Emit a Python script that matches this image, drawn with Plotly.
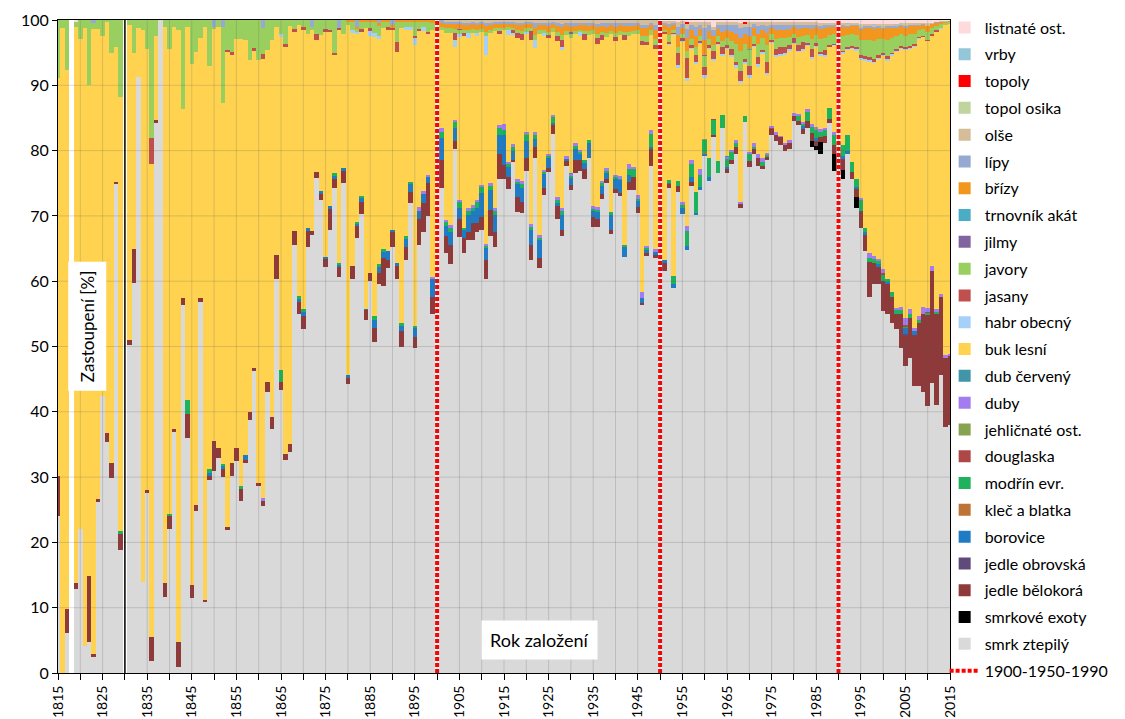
import plotly.graph_objects as go

years = list(range(1815, 2016))
empty_years = [1818, 1830]
markers = [1900, 1950, 1990]

# ---------- conifers (full lists, 1815..2015) ----------
smrk = [
    24.1, 0, 6.2, None, 12.8, 22.1, 4.2, 4.8, 2.5, 26.3,
    42.4, 35.4, 29.9, 74.9, 18.8, None, 50.2, 59.8, 91.2, 14.0,
    27.6, 1.9, 84.3, 100, 11.6, 22.1, 37.0, 0.9, 56.3, 36.0,
    11.5, 24.8, 56.8, 10.8, 29.5, 31.0, 33.0, 30.0, 22.0, 30.1,
    32.4, 26.4, 32.1, 38.8, 46.4, 28.6, 25.5, 43.0, 37.4, 60.3,
    43.4, 32.6, 33.8, 65.6, 55.0, 52.7, 65.3, 67.0, 75.8, 72.5,
    62.2, 67.8, 74.2, 60.6, 75.0, 44.3, 60.3, 66.6, 70.3, 54.0,
    60.0, 50.7, 59.6, 59.2, 62.0, 65.3, 60.3, 50.0, 63.3, 71.9,
    49.8, 65.6, 67.5, 70.0, 55.0, 53.0, 74.2, 64.3, 62.6, 80.2,
    66.9, 64.3, 66.3, 66.3, 67.6, 67.9, 60.3, 66.9, 65.3, 75.6,
    75.6, 74.1, 78.2, 70.6, 70.4, 76.9, 63.3, 78.9, 62.0, 73.2,
    76.8, 82.5, 69.6, 66.9, 77.6, 74.1, 76.6, 76.9, 75.6, 78.9,
    68.3, 68.3, 72.6, 75.0, 67.3, 73.5, 73.0, 63.7, 73.9, 73.9,
    70.4, 56.3, 63.9, 77.6, 63.5, 62.5, 61.6, 74.2, 59.0, 73.6,
    70.3, 64.9, 74.6, 70.2, 73.9, 79.5, 75.4, 82.2, 76.6, 83.5,
    76.6, 77.9, 79.5, 71.2, 84.5, 77.6, 79.5, 77.6, 77.2, 78.5,
    82.5, 81.5, 80.9, 79.9, 80.2, 84.5, 83.9, 82.5, 83.5, 80.5,
    80.2, 79.5, 81.2, 84.2, 76.9, 77.0, 75.7, 79.5, 75.7, 71.2,
    68.3, 64.6, 57.6, 59.6, 59.6, 55.6, 55.0, 53.6, 52.7, 49.7,
    47.3, 48.3, 44.0, 44.0, 43.0, 41.0, 44.4, 41.0, 45.7, 37.7,
    38.0,
]

jedle = [
    6.0, 0, 3.6, None, 1.0, 0, 0, 10.0, 0.4, 0.3,
    0, 1.3, 2.2, 0.3, 2.6, None, 0.8, 5.1, 0, 0,
    0.4, 3.6, 0.4, 0, 2.2, 2.0, 0.3, 3.9, 1.2, 3.6,
    2.0, 1.0, 0.7, 0.4, 0.8, 4.6, 1.5, 1.2, 0.3, 2.0,
    2.0, 1.9, 0.5, 1.2, 0.3, 0.5, 0.8, 1.5, 1.8, 3.7,
    1.1, 1.0, 1.2, 2.1, 1.8, 2.0, 2.5, 0.7, 1.0, 1.0,
    1.2, 3.4, 1.5, 1.6, 2.0, 0.9, 2.0, 1.8, 1.9, 1.6,
    1.3, 2.2, 1.7, 4.4, 1.3, 2.3, 2.0, 2.3, 2.0, 1.8,
    1.7, 4.0, 4.5, 5.0, 2.6, 2.6, 4.3, 2.6, 3.0, 1.3,
    2.7, 2.3, 1.3, 2.6, 1.3, 2.0, 3.0, 4.0, 2.3, 3.9,
    2.2, 1.8, 0.4, 2.3, 1.8, 2.0, 2.3, 1.6, 1.6, 1.0,
    0.6, 1.5, 2.0, 1.0, 0.9, 0.8, 1.9, 1.6, 1.6, 0,
    1.6, 1.3, 0.7, 0.6, 0.6, 0.6, 0.5, 0, 1.3, 2.0,
    0.9, 0.4, 0.4, 2.6, 0.5, 0.8, 1.2, 0.7, 0, 1.0,
    0, 0, 0.6, 0, 0, 0, 0, 0.3, 0, 0,
    0.6, 0.6, 1.0, 0.6, 0, 0.9, 0.7, 1.3, 0.5, 0.6,
    1.0, 1.0, 1.2, 1.0, 1.0, 0.9, 0.7, 0.8, 1.0, 1.3,
    0.7, 0.8, 1.0, 0.6, 1.3, 0.8, 1.7, 0, 1.0, 1.3,
    2.6, 2.6, 5.3, 3.3, 2.6, 4.7, 4.6, 4.0, 2.3, 5.3,
    4.7, 6.0, 7.7, 9.6, 12.0, 14.0, 17.2, 14.0, 11.9, 10.6,
    10.5,
]

exoty_d = {1984: 0.9, 1985: 0.6, 1986: 1.8, 1989: 2.6, 1990: 2.5, 1991: 1.3, 1994: 1.7}

borovice_d = {
    1849: 0.3, 1852: 0.6, 1857: 0.8, 1869: 0.5, 1870: 0.6, 1871: 0.3, 1874: 0.3, 1875: 0.3,
    1876: 0.3, 1877: 0.5, 1878: 0.3, 1879: 0.3, 1880: 0.5, 1882: 0.4, 1883: 0.5, 1884: 0.2,
    1886: 1.2, 1887: 0.8, 1888: 1.0, 1889: 1.3, 1890: 0.2, 1891: 0.5, 1892: 0.8, 1893: 1.2,
    1894: 1.3, 1895: 1.4, 1896: 1.2, 1897: 1.4, 1898: 1.0, 1899: 2.8,
    1900: 2.3, 1901: 3.4, 1902: 1.6, 1903: 2.0, 1904: 2.0, 1905: 1.7, 1906: 1.3, 1907: 2.6,
    1908: 1.9, 1909: 2.3, 1910: 3.6, 1911: 1.8, 1912: 3.0, 1913: 2.6, 1914: 2.9, 1915: 4.6,
    1916: 1.6, 1917: 1.3, 1918: 2.0, 1919: 2.0, 1920: 2.7, 1921: 2.3, 1922: 1.3, 1923: 2.7,
    1924: 2.3, 1925: 1.5, 1926: 0.2, 1927: 0.3, 1928: 2.3, 1929: 0.3, 1930: 1.0, 1931: 1.8,
    1932: 1.0, 1933: 1.0, 1934: 2.3, 1935: 1.0, 1936: 1.0, 1937: 1.3, 1938: 1.0, 1939: 2.3,
    1940: 1.5, 1941: 2.0, 1942: 1.5, 1943: 1.0, 1945: 1.0, 1946: 0.7, 1947: 0.6, 1948: 0.4,
    1949: 0.6, 1950: 0.5, 1951: 0.4, 1952: 0.2, 1953: 0.6, 1955: 1.0, 1956: 0.7, 1957: 0.7,
    1958: 0.3, 1959: 0.6, 1960: 0.3, 1961: 0.5, 1965: 0.4, 1982: 0.5, 1985: 0.5, 1991: 0.5,
    1992: 0.5, 1994: 0.3, 1996: 0.3, 1999: 0.4, 2001: 0.3, 2005: 1.0, 2007: 0.6,
}

modrin_d = {
    1829: 0.3, 1840: 0.3, 1844: 2.2, 1849: 0.6, 1852: 0.2, 1856: 0.3, 1865: 1.9, 1869: 0.5,
    1870: 0.5, 1877: 0.3, 1878: 0.3, 1882: 0.2, 1883: 0.4, 1886: 0.6, 1887: 0.5, 1888: 0.3,
    1892: 0.5, 1893: 0.4, 1894: 0.2, 1895: 0.2,
    1901: 1.0, 1902: 0.5, 1903: 0.6, 1904: 1.0, 1905: 0.9, 1906: 0.3, 1907: 0.6, 1908: 0.5,
    1909: 1.0, 1910: 1.0, 1911: 0.3, 1912: 0.7, 1913: 0.6, 1914: 1.0, 1915: 0.8, 1916: 0.5,
    1917: 0.6, 1918: 0.4, 1919: 0.7, 1920: 1.0, 1921: 0.5, 1922: 0.7, 1923: 0.4, 1924: 0.3,
    1925: 0.3, 1926: 1.0, 1927: 0.6, 1928: 0.7, 1930: 0.5, 1931: 0.5, 1932: 0.3, 1933: 0.3,
    1934: 0.4, 1935: 0.3, 1936: 0.4, 1937: 0.5, 1938: 0.4, 1939: 0.4, 1940: 0.4, 1941: 0.3,
    1942: 0.4, 1943: 1.0, 1944: 1.3, 1945: 0.3, 1947: 0.2, 1948: 2.0,
    1952: 0.4, 1953: 1.2, 1954: 0.8, 1955: 0.3, 1956: 2.3, 1957: 2.0, 1958: 3.1, 1959: 1.7,
    1960: 2.0, 1961: 3.0, 1962: 2.3, 1963: 1.9, 1964: 2.0, 1965: 1.3, 1966: 1.4, 1967: 0.8,
    1969: 1.0, 1970: 1.0, 1971: 0.4, 1973: 0.6, 1974: 0.3, 1981: 0.7, 1982: 0.4, 1983: 1.5,
    1984: 1.0, 1985: 1.3, 1986: 0.8, 1987: 1.0, 1988: 1.7, 1989: 1.7, 1990: 1.0, 1991: 1.6,
    1992: 2.5, 1993: 1.6, 1994: 1.2, 1995: 1.7, 1996: 0.7, 1997: 0.7, 1998: 0.7, 1999: 0.5,
    2000: 1.0, 2001: 0.4, 2002: 0.7, 2003: 0.7, 2004: 0.7, 2005: 0.3, 2006: 0.7, 2008: 0.4,
    2010: 0.3, 2012: 0.3,
}

duby_d = {
    1861: 0.5, 1896: 0.5, 1897: 0.4, 1898: 0.3, 1899: 0.3, 1900: 0.4, 1901: 0.5, 1902: 0.4,
    1903: 0.4, 1904: 0.2, 1905: 0.3, 1907: 0.4, 1908: 0.3, 1909: 0.3, 1910: 0.3, 1911: 0.3,
    1912: 0.4, 1913: 0.4, 1914: 0.5, 1915: 0.9, 1916: 0.3, 1917: 0.5, 1918: 0.3, 1919: 0.4,
    1920: 0.3, 1921: 0.3, 1922: 0.3, 1923: 0.3, 1924: 0.2, 1925: 0.3, 1926: 0.3, 1927: 0.4,
    1928: 0.3, 1929: 0.3, 1930: 0.3, 1931: 0.3, 1932: 0.3, 1935: 0.3, 1936: 0.3, 1937: 0.3,
    1938: 0.3, 1940: 0.3, 1941: 0.3, 1943: 0.7, 1944: 0.3, 1945: 0.6, 1946: 1.0, 1947: 0.3,
    1948: 0.5, 1949: 0.3, 1955: 0.6, 1956: 0.7, 1957: 0.6, 1959: 1.0, 1965: 0.3, 1966: 0.2,
    1967: 0.3, 1968: 0.4, 1970: 0.4, 1971: 0.5, 1972: 0.6, 1973: 0.5, 1974: 0.3, 1975: 0.4,
    1976: 0.3, 1977: 0.2, 1978: 0.2, 1979: 0.4, 1980: 0.3, 1981: 0.3, 1982: 0.2, 1983: 0.3,
    1984: 0.3, 1985: 0.3, 1986: 0.4, 1987: 0.3, 1989: 0.3, 1995: 0.2, 1997: 0.7, 1998: 0.3,
    1999: 0.3, 2000: 0.6, 2003: 0.3, 2004: 0.3, 2005: 1.0, 2006: 0.8, 2007: 0.5, 2008: 0.6,
    2009: 1.0, 2010: 0.5, 2011: 0.7, 2012: 0.4, 2013: 0.4, 2014: 0.4, 2015: 0.4,
}

jedle_obrovska_d = {1995: 0.1, 2005: 0.1}
klec_d = {1960: 0.1}
douglaska_d = {1962: 0.1, 1975: 0.1, 1990: 0.1, 2000: 0.2, 2005: 0.2, 2010: 0.2}
jehlicnate_ost_d = {1920: 0.1, 1960: 0.1, 1985: 0.1}
dub_cerveny_d = {1930: 0.1, 1965: 0.1, 1990: 0.1}

# ---------- beech ----------
buk = [
    61.0, 98.8, 82.5, None, 85.1, 75.0, 94.5, 75.2, 95.7, 72.0,
    55.2, 63.1, 62.8, 20.7, 66.5, None, 48.2, 30.0, 7.5, 84.5,
    67.5, 72.5, 12.8, 0, 85.2, 71.2, 61.7, 93.7, 28.8, 57.2,
    79.8, 69.3, 39.7, 87.8, 61.8, 63.1, 64.5, 55.3, 72.8, 62.5,
    62.7, 68.5, 63.6, 53.8, 48.7, 64.7, 67.2, 50.9, 57.7, 35.0,
    51.0, 62.3, 64.1, 30.4, 41.5, 42.8, 29.8, 30.8, 20.2, 23.9,
    34.6, 26.8, 18.2, 35.7, 20.5, 53.5, 35.7, 28.8, 25.2, 42.9,
    36.2, 42.7, 34.5, 33.9, 33.9, 30.7, 32.3, 45.1, 31.5, 23.3,
    43.1, 27.1, 24.5, 21.5, 37.8, 37.2, 15.1, 28.6, 29.4, 11.1,
    25.0, 29.3, 26.0, 26.4, 25.0, 23.4, 28.9, 23.0, 27.1, 14.1,
    14.4, 19.4, 16.8, 21.6, 21.6, 14.9, 28.2, 12.9, 30.9, 20.7,
    17.7, 12.6, 23.9, 24.2, 18.6, 20.7, 16.7, 17.5, 18.5, 16.1,
    26.4, 25.0, 21.6, 20.1, 27.2, 20.5, 21.6, 31.3, 19.7, 20.3,
    24.7, 37.8, 30.7, 14.6, 30.6, 31.4, 34.7, 20.7, 37.0, 17.4,
    24.5, 22.4, 17.1, 19.7, 19.2, 9.5, 16.7, 9.0, 17.8, 9.1,
    16.4, 14.3, 11.2, 18.1, 8.1, 11.4, 14.8, 13.3, 16.1, 11.9,
    12.8, 11.6, 12.3, 13.6, 13.8, 10.7, 9.5, 11.0, 9.8, 10.1,
    12.3, 11.3, 10.9, 9.4, 13.3, 13.8, 14.1, 13.1, 17.3, 19.7,
    21.3, 25.6, 29.3, 29.7, 30.7, 32.8, 33.5, 36.3, 39.2, 39.6,
    41.3, 39.8, 43.1, 42.6, 41.4, 41.1, 35.3, 42.5, 40.7, 50.5,
    50.6,
]

# ---------- broadleaves above beech ----------
javory = [
    8.9, 1.2, 7.7, None, 0.8, 2.9, 1.3, 10.0, 1.0, 1.4,
    2.4, 0.2, 5.1, 4.1, 11.8, None, 0.8, 5.1, 1.3, 1.5,
    4.5, 18.0, 2.5, 0, 1.0, 4.4, 1.0, 1.5, 13.7, 1.0,
    6.7, 4.9, 2.8, 1.0, 7.0, 0.3, 1.0, 11.7, 4.6, 4.9,
    2.9, 2.9, 3.0, 6.2, 4.3, 6.2, 4.0, 4.6, 3.1, 1.0,
    2.2, 3.6, 0.9, 1.4, 0.7, 1.1, 2.1, 0.5, 2.2, 2.3,
    1.4, 1.5, 5.1, 0, 2.2, 0.5, 1.3, 0.5, 1.1, 1.0,
    1.0, 1.7, 1.6, 0.9, 0.7, 0, 3.1, 1.0, 0.7, 0.7,
    2.1, 1.1, 0.7, 1.5, 1.0, 1.5, 0.5, 0.8, 0.7, 0.6,
    0.6, 0.5, 0.5, 0.6, 0.5, 0.4, 0.6, 0.5, 0.4, 0.4,
    0.3, 0.4, 0.4, 0.5, 0.5, 0.5, 0.3, 0.8, 0.5, 0.5,
    0.5, 0.6, 0.6, 0.8, 0.6, 0.7, 0.5, 0.4, 0.5, 0.6,
    0.5, 0.5, 0.5, 0.6, 0.5, 0.6, 0.6, 0.5, 0.6, 0.5,
    0.5, 0.7, 0.8, 0.8, 0.9, 1.0, 0.3, 1.0, 0.3, 1.0,
    0.6, 1.0, 1.0, 1.2, 0.7, 1.8, 1.0, 0.9, 1.0, 1.0,
    1.2, 1.2, 2.8, 3.0, 2.3, 2.5, 1.2, 2.0, 1.8, 2.6,
    0.9, 1.5, 1.4, 1.4, 1.3, 0.6, 1.3, 1.0, 1.2, 1.5,
    1.3, 2.0, 1.8, 1.5, 1.4, 2.0, 2.2, 1.8, 1.8, 1.9,
    2.3, 2.5, 2.6, 2.8, 2.5, 2.2, 2.5, 2.3, 2.0, 1.8,
    1.8, 1.8, 1.6, 1.0, 1.0, 1.2, 0.9, 0.7, 0.6, 0.4,
    0.3,
]

jasany_d = {
    1836: 4.0, 1853: 0.3, 1854: 0.5, 1859: 0.3, 1861: 0.8, 1866: 0.5, 1868: 0.5, 1870: 0.3,
    1873: 0.8, 1875: 0.3, 1876: 0.2, 1877: 0.2, 1878: 0.3, 1883: 0.3, 1885: 0.4, 1889: 0.5,
    1890: 0.4, 1891: 1.5, 1895: 0.4, 1896: 0.2, 1898: 0.4, 1904: 1.0, 1906: 0.5, 1914: 0.3,
    1917: 0.3, 1918: 0.8, 1919: 0.9, 1921: 1.5, 1925: 0.5, 1927: 0.7, 1928: 1.0, 1933: 0.8,
    1936: 1.0, 1937: 0.7, 1940: 0.6, 1942: 0.8, 1946: 0.6, 1947: 0.6, 1949: 0.7, 1950: 0.7,
    1951: 0.2, 1952: 0.3, 1953: 0.2, 1954: 1.8, 1955: 0.3, 1956: 3.1, 1957: 0.3, 1958: 1.0,
    1959: 0.2, 1960: 1.3, 1961: 0.3, 1962: 1.3, 1963: 0.2, 1964: 1.0, 1965: 0.3, 1966: 0.9,
    1967: 0.4, 1968: 1.5, 1969: 0.3, 1970: 1.5, 1971: 0.3, 1972: 1.0, 1973: 0.3, 1974: 1.7,
    1975: 0.2, 1976: 1.0, 1977: 1.0, 1978: 0.9, 1979: 0.5, 1980: 0.8, 1981: 0.8, 1982: 1.0,
    1983: 0.3, 1984: 1.3, 1985: 0.3, 1986: 0.3, 1987: 0.8, 1988: 0.2, 1989: 0.2, 1990: 0.2,
    1991: 0.2, 1992: 0.2, 1993: 0.2, 1994: 0.2, 1995: 0.5, 1996: 0.5, 1997: 0.5, 1998: 0.3,
    1999: 0.3, 2000: 0.2, 2001: 0.5, 2002: 0.2, 2003: 0.2, 2004: 0.2, 2005: 0.2, 2006: 0.2,
    2007: 0.2, 2008: 0.1, 2009: 0.1, 2010: 0.1, 2011: 0.1, 2012: 0.1,
}

habr_early_d = {
    1865: 0.4, 1881: 0.4, 1882: 0.4, 1885: 0.8, 1886: 0.6, 1887: 0.5, 1893: 0.6, 1894: 0.5,
    1895: 1.0, 1897: 0.7, 1900: 1.5, 1904: 1.2, 1905: 0.5, 1907: 0.8, 1909: 0.5, 1911: 3.0,
    1916: 0.8, 1917: 0.3, 1920: 0.4, 1922: 1.2, 1924: 0.3, 1928: 0.5, 1932: 0.5,
}
habr_from_1951 = [
    0.1, 0.2, 0.1, 0.3, 0.2, 0.4, 0.2, 0.3, 0.2, 0.3,
    0.2, 0.2, 0.2, 0.2, 0.2, 0.3, 0.3, 0.4, 0.3, 0.3,
    0.2, 0.5, 0.2, 0.3, 0.1, 0.2, 0.2, 0.2, 0.2, 0.1,
    0.2, 0.2, 0.1, 0.2, 0.2, 0.2, 0.2, 0.1, 0.1, 0.2,
    0.2, 0.2, 0.2, 0.2, 0.2, 0.2, 0.2, 0.2, 0.2, 0.2,
    0.2, 0.2, 0.2, 0.2, 0.2, 0.2, 0.2, 0.1, 0.1, 0.1,
    0.1, 0.1, 0.1, 0.0, 0.0,
]

brizy_from_1880 = [
    0.3, 0.3, 0.3, 0.3, 0.3, 0.3, 0.3, 0.3, 0.3, 0.3,
    0.3, 0.3, 0.3, 0.3, 0.3, 0.3, 0.3, 0.3, 0.3, 0.5,
    0.5, 0.5, 0.6, 0.7, 0.8, 0.8, 0.8, 0.8, 0.8, 0.8,
    0.8, 0.9, 0.8, 0.7, 0.7, 0.6, 0.6, 0.6, 0.8, 0.9,
    0.7, 0.7, 1.0, 0.8, 0.8, 0.9, 0.7, 1.0, 1.2, 0.9,
    0.9, 0.8, 0.8, 0.9, 0.8, 0.8, 1.1, 0.9, 1.0, 0.9,
    1.0, 0.9, 0.9, 0.9, 0.8, 0.8, 1.2, 1.2, 0.8, 1.4,
    1.5, 0.8, 1.2, 0.8, 1.8, 1.0, 2.0, 1.3, 1.8, 1.1,
    2.2, 1.2, 1.3, 1.0, 1.3, 1.1, 1.3, 1.5, 2.0, 1.5,
    2.0, 1.1, 1.6, 1.3, 1.8, 1.0, 1.3, 1.3, 1.3, 1.2,
    1.0, 1.2, 1.2, 1.1, 1.5, 1.2, 1.5, 1.5, 1.3, 1.2,
    1.5, 1.5, 1.3, 1.3, 1.4, 1.7, 1.8, 1.9, 1.9, 1.7,
    1.6, 1.8, 1.6, 1.4, 1.3, 1.3, 1.3, 1.2, 0.8, 0.7,
    0.9, 0.7, 0.5, 0.3, 0.2, 0.1,
]

lipy_early_d = {1823: 0.4, 1850: 1.0, 1852: 1.0, 1861: 1.2, 1872: 1.0, 1878: 1.2,
                1882: 1.0, 1887: 0.5, 1890: 0.8}
lipy_from_1900 = [
    0.5, 0.5, 0.3, 0.3, 0.3, 0.3, 0.3, 0.3, 0.3, 0.3,
    0.3, 0.4, 0.3, 0.3, 0.3, 0.3, 0.2, 0.3, 0.3, 0.4,
    0.3, 0.3, 0.8, 0.4, 0.3, 0.4, 0.3, 0.4, 0.5, 0.4,
    0.5, 0.4, 0.3, 0.4, 0.4, 0.4, 0.5, 0.4, 0.5, 0.4,
    0.5, 0.4, 0.4, 0.4, 0.4, 0.4, 0.6, 0.6, 0.3, 0.7,
    0.8, 0.3, 0.5, 0.4, 1.2, 0.6, 1.4, 0.8, 1.3, 0.7,
    1.8, 0.9, 1.0, 0.7, 1.2, 0.9, 1.2, 1.4, 1.6, 1.2,
    1.4, 0.7, 1.2, 0.8, 1.1, 0.5, 0.8, 0.7, 0.7, 0.6,
    0.4, 0.6, 0.5, 0.5, 0.6, 0.4, 0.5, 0.5, 0.3, 0.3,
    0.3, 0.3, 0.2, 0.2, 0.2, 0.3, 0.3, 0.3, 0.3, 0.3,
    0.2, 0.3, 0.2, 0.2, 0.2, 0.2, 0.2, 0.2, 0.1, 0.1,
    0.1, 0.1, 0.1, 0.1, 0.0, 0.0,
]

olse_from_1900 = [
    0.5, 0.0, 0.3, 0.3, 0.3, 0.3, 0.4, 0.4, 0.3, 0.4,
    0.3, 0.5, 0.4, 0.3, 0.3, 0.3, 0.3, 0.3, 0.4, 0.4,
    0.3, 0.3, 0.5, 0.4, 0.4, 0.5, 0.3, 0.5, 0.6, 0.4,
    0.5, 0.5, 0.4, 0.4, 0.5, 0.4, 0.6, 0.5, 0.5, 0.4,
    0.5, 0.4, 0.5, 0.5, 0.5, 0.4, 0.7, 0.7, 0.4, 0.8,
    0.8, 0.3, 0.5, 0.3, 0.9, 0.5, 0.9, 0.6, 0.9, 0.5,
    1.0, 0.5, 0.5, 0.4, 0.5, 0.5, 0.5, 0.6, 0.8, 0.5,
    0.7, 0.4, 0.6, 0.5, 0.6, 0.4, 0.5, 0.5, 0.5, 0.5,
    0.4, 0.5, 0.4, 0.4, 0.5, 0.4, 0.5, 0.4, 0.3, 0.3,
    0.2, 0.2, 0.2, 0.2, 0.2, 0.3, 0.3, 0.3, 0.3, 0.3,
    0.3, 0.3, 0.3, 0.2, 0.2, 0.2, 0.2, 0.2, 0.2, 0.1,
    0.2, 0.1, 0.1, 0.1, 0.1, 0.0,
]

listnate_early_d = {1819: 0.3}
listnate_from_1951 = [
    0.1, 0.1, 0.1, 0.2, 0.1, 0.2, 0.2, 0.2, 0.2, 0.3,
    0.3, 1.0, 0.2, 0.2, 0.2, 0.2, 0.2, 0.4, 0.3, 0.3,
    0.2, 0.3, 0.2, 0.3, 0.2, 0.3, 0.3, 0.3, 0.3, 0.3,
    0.3, 0.3, 0.3, 0.3, 0.3, 0.4, 0.4, 0.4, 0.4, 0.5,
    0.5, 0.5, 0.5, 0.5, 0.6, 0.6, 0.6, 0.6, 0.6, 0.6,
    0.6, 0.6, 0.6, 0.5, 0.5, 0.5, 0.5, 0.5, 0.5, 0.5,
    0.4, 0.2, 0.1, 0.1, 0.1,
]

jilmy_d = {1905: 0.1, 1930: 0.1, 1960: 0.1}
trnovnik_d = {1970: 0.1}
topol_osika_d = {1995: 0.2, 2000: 0.2, 2005: 0.2, 2010: 0.1}
topoly_d = {1950: 0.1, 1956: 0.3, 1969: 0.2}
vrby_d = {1963: 0.1, 1975: 0.1, 1992: 0.1, 1998: 0.1, 2003: 0.1}


# ---------- helpers to place values on the year axis ----------
def from_dict(d):
    return [d.get(y, 0.0) for y in years]


def from_start(start, vals, extra=None):
    out = from_dict(extra or {})
    for i, v in enumerate(vals):
        out[start - years[0] + i] = v
    return out


def blank(vals):
    return [None if y in empty_years else v for y, v in zip(years, vals)]


# stacking order (bottom -> top)
series = [
    ("smrk ztepilý", smrk, "#D9D9D9"),
    ("smrkové exoty", from_dict(exoty_d), "#000000"),
    ("jedle bělokorá", jedle, "#8E3A3A"),
    ("jedle obrovská", from_dict(jedle_obrovska_d), "#604A7B"),
    ("borovice", from_dict(borovice_d), "#1F7BC4"),
    ("kleč a blatka", from_dict(klec_d), "#BE7436"),
    ("modřín evr.", from_dict(modrin_d), "#1DB25B"),
    ("douglaska", from_dict(douglaska_d), "#AE4846"),
    ("jehličnaté ost.", from_dict(jehlicnate_ost_d), "#86A34F"),
    ("duby", from_dict(duby_d), "#A47CF2"),
    ("dub červený", from_dict(dub_cerveny_d), "#4095A8"),
    ("buk lesní", buk, "#FFD350"),
    ("habr obecný", from_start(1951, habr_from_1951, habr_early_d), "#A5D0FA"),
    ("jasany", from_dict(jasany_d), "#C0504D"),
    ("javory", javory, "#99CF5F"),
    ("jilmy", from_dict(jilmy_d), "#8064A2"),
    ("trnovník akát", from_dict(trnovnik_d), "#4BACC6"),
    ("břízy", from_start(1880, brizy_from_1880), "#F2961F"),
    ("lípy", from_start(1900, lipy_from_1900, lipy_early_d), "#96A9D3"),
    ("olše", from_start(1900, olse_from_1900), "#D6BD9A"),
    ("topol osika", from_dict(topol_osika_d), "#BFD59D"),
    ("topoly", from_dict(topoly_d), "#FF0000"),
    ("vrby", from_dict(vrby_d), "#93C6D6"),
    ("listnaté ost.", from_start(1951, listnate_from_1951, listnate_early_d), "#FFDADD"),
]

for name, vals, _ in series:
    assert len(vals) == len(years), (name, len(vals))

FONT = "Lato, 'Open Sans', Arial, sans-serif"
n = len(series)

fig = go.Figure()

# vertical marker lines (scatter layer sits above the bars)
mx, my = [], []
for m in markers:
    mx += [m, m, None]
    my += [0, 100, None]
fig.add_trace(go.Scatter(x=mx, y=my, mode="lines", line=dict(color="white", width=4),
                         showlegend=False, hoverinfo="skip", legendgroup="marks",
                         legendrank=n + 2))
fig.add_trace(go.Scatter(x=mx, y=my, mode="lines",
                         line=dict(color="#FF0000", width=4, dash="4px,2px"),
                         name="1900-1950-1990", legendgroup="marks", hoverinfo="skip",
                         legendrank=n + 1))

for i, (name, vals, color) in enumerate(series):
    fig.add_trace(go.Bar(x=years, y=blank(vals), name=name, width=1,
                         marker=dict(color=color, line=dict(width=0)),
                         legendgroup=name, legendrank=n - i))

shapes = []
for gy in range(10, 100, 10):
    shapes.append(dict(type="line", xref="paper", x0=0, x1=1, yref="y", y0=gy, y1=gy,
                       line=dict(color="rgba(90,90,90,0.22)", width=1), layer="above"))
for gx in range(1820, 2015, 5):
    shapes.append(dict(type="line", xref="x", x0=gx, x1=gx, yref="paper", y0=0, y1=1,
                       line=dict(color="rgba(90,90,90,0.22)", width=1), layer="above"))
shapes.append(dict(type="line", xref="x", x0=1830, x1=1830, yref="paper", y0=0, y1=1,
                   line=dict(color="black", width=1.5), layer="above"))

# the page adds an 8 px body margin, so the figure is 8 px smaller than the window
fig.update_layout(
    width=1117, height=711,
    margin=dict(l=50, r=175, t=12, b=46, autoexpand=False),
    paper_bgcolor="white", plot_bgcolor="white",
    barmode="stack", barnorm="percent", bargap=0,
    font=dict(family=FONT, color="#000000"),
    showlegend=True,
    legend=dict(traceorder="grouped", tracegroupgap=3, maxheight=1.0,
                x=0.994, xanchor="left", y=1.0145, yanchor="top",
                font=dict(size=16, family=FONT), bgcolor="rgba(0,0,0,0)"),
    xaxis=dict(range=[1815, 2015], tick0=1815, dtick=10, tickangle=-90,
               ticks="outside", ticklen=6, tickcolor="black",
               minor=dict(dtick=5, tick0=1815, ticks="outside", ticklen=6, tickcolor="black"),
               showline=True, linecolor="black", linewidth=1, mirror=True,
               showgrid=False, zeroline=False, tickfont=dict(size=14, family=FONT)),
    yaxis=dict(range=[0, 100], dtick=10, ticks="outside", ticklen=5, tickcolor="black",
               showline=True, linecolor="black", linewidth=1, mirror=True,
               showgrid=False, zeroline=False, tickfont=dict(size=16, family=FONT)),
    shapes=shapes,
    annotations=[
        dict(text="Zastoupení [%]", textangle=-90, xref="paper", yref="paper",
             x=0.0325, y=0.531, xanchor="center", yanchor="middle",
             showarrow=False, bgcolor="white", borderpad=8,
             font=dict(size=17, family=FONT)),
        dict(text="Rok založení", xref="paper", yref="paper", x=0.54, y=0.0505,
             xanchor="center", yanchor="middle",
             showarrow=False, bgcolor="white", borderpad=8,
             font=dict(size=18, family=FONT)),
    ],
)

fig.write_html("out.html")
